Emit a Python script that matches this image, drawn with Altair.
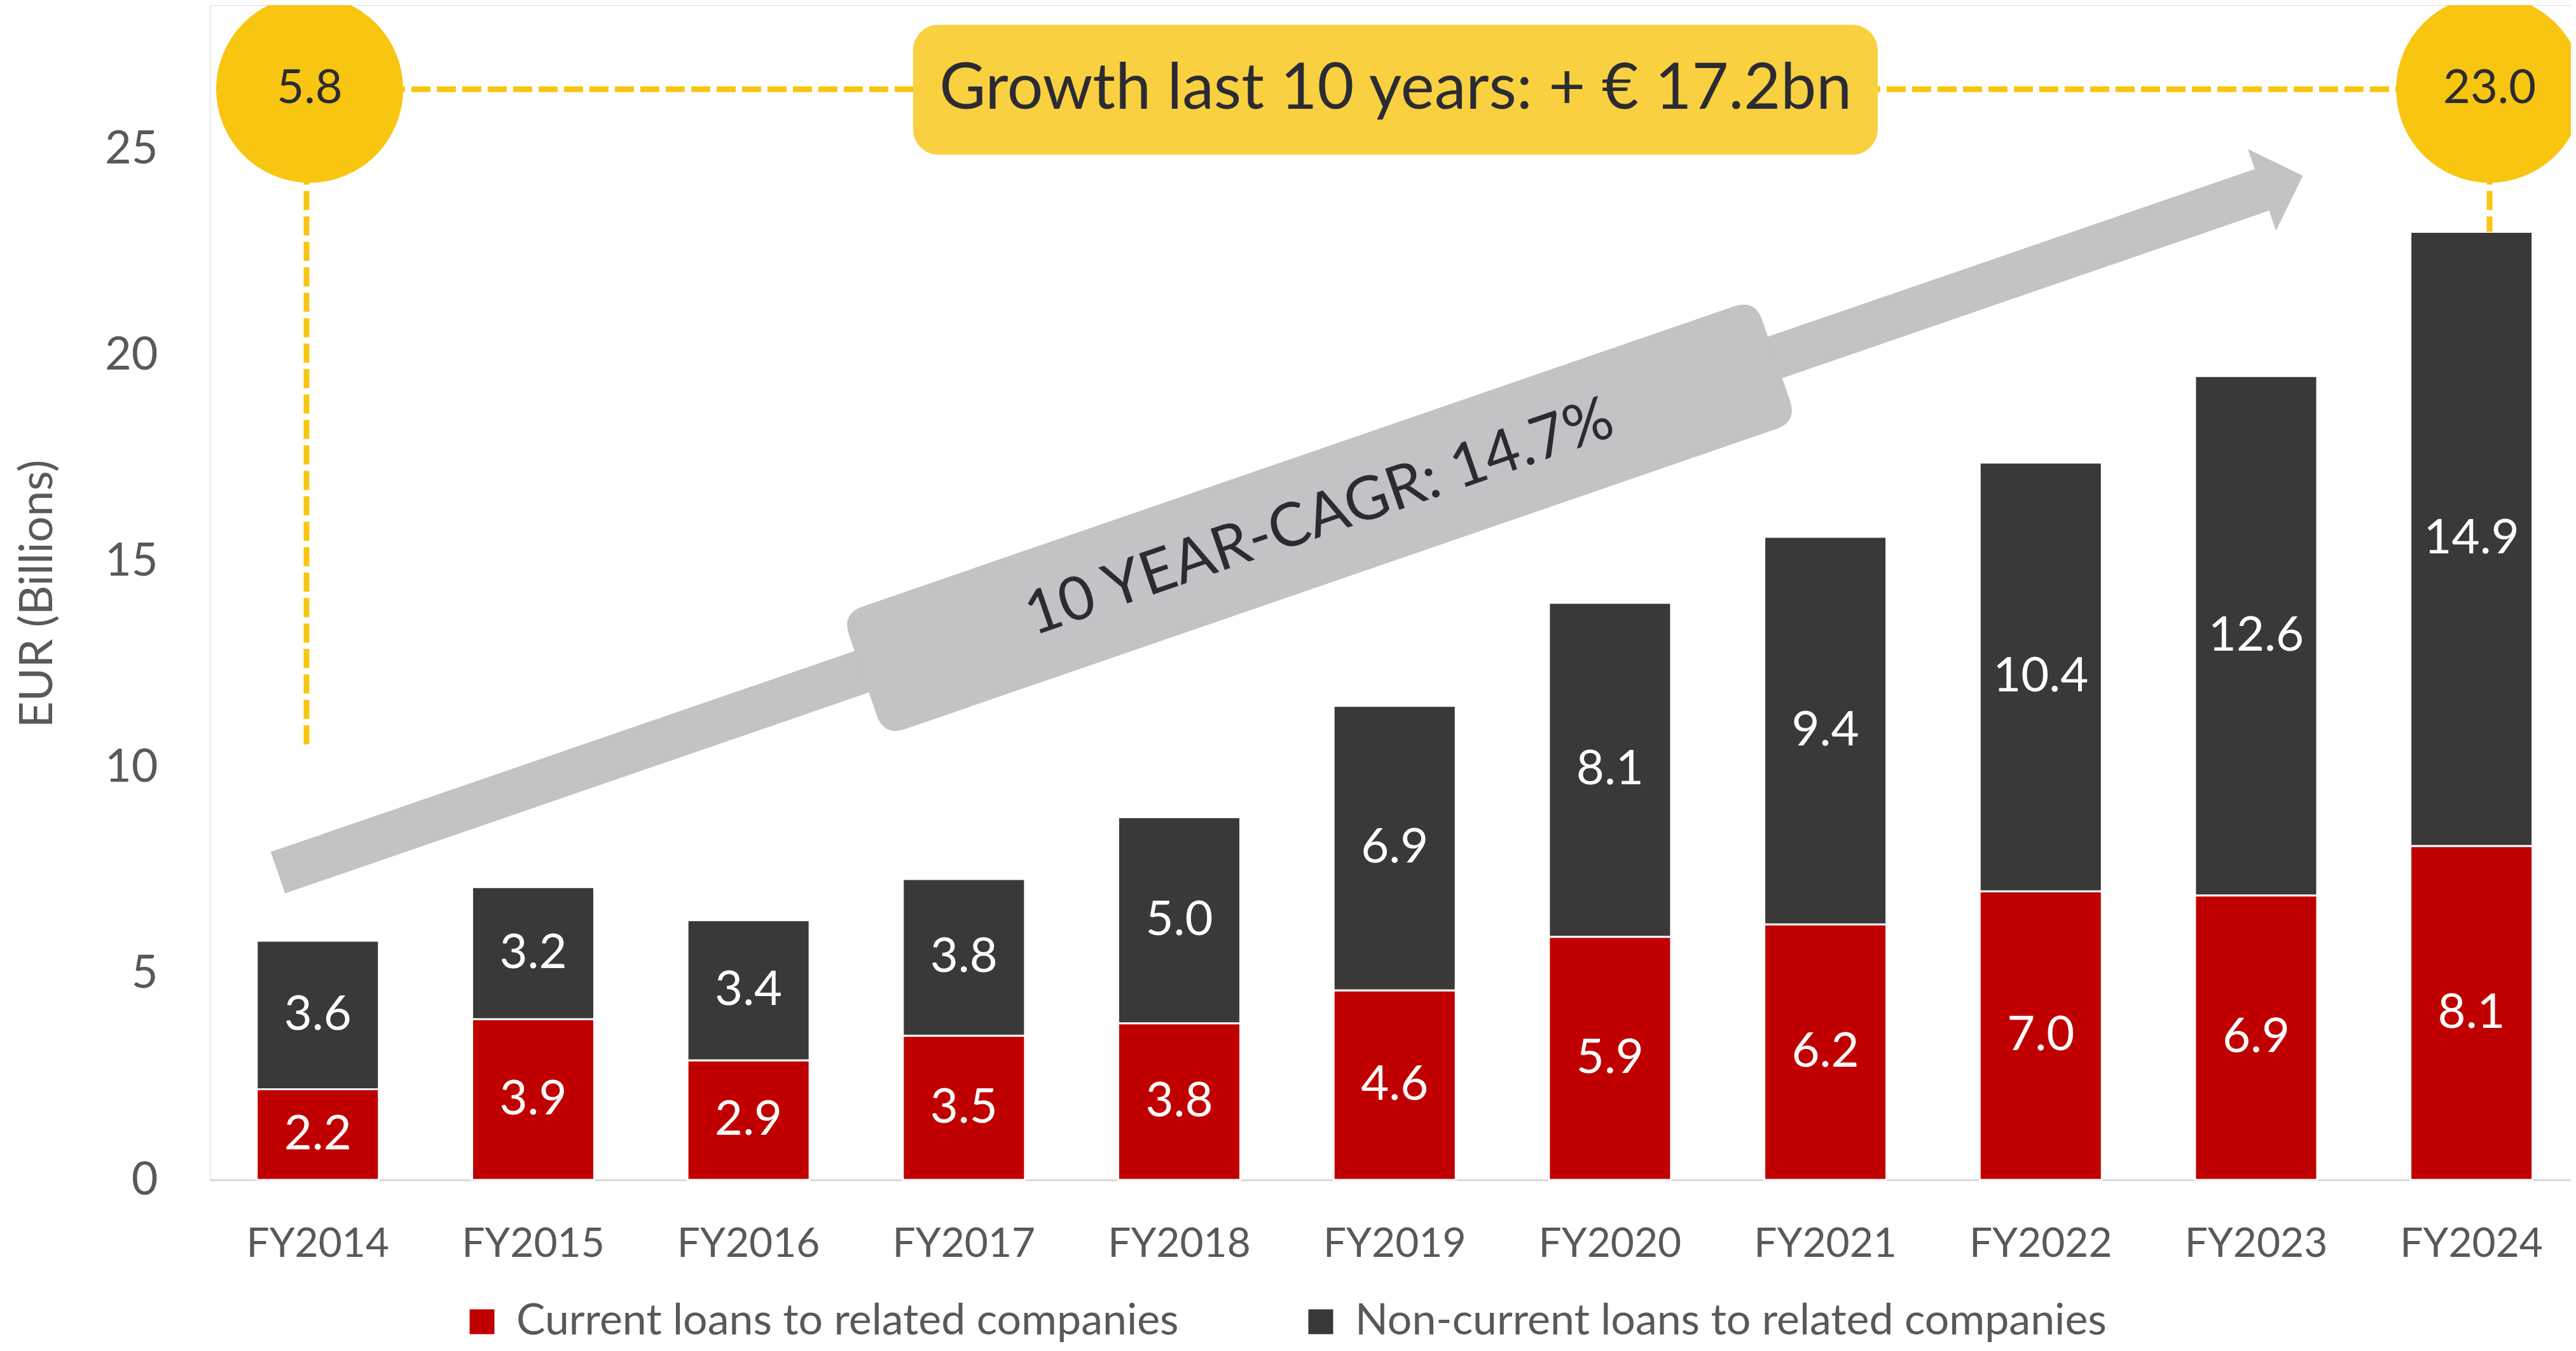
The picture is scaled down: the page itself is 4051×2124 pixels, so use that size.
import altair as alt
import pandas as pd

# ---------------- data ----------------
years = ["FY2014", "FY2015", "FY2016", "FY2017", "FY2018", "FY2019",
         "FY2020", "FY2021", "FY2022", "FY2023", "FY2024"]
current = [2.2, 3.9, 2.9, 3.5, 3.8, 4.6, 5.9, 6.2, 7.0, 6.9, 8.1]
noncurrent = [3.6, 3.2, 3.4, 3.8, 5.0, 6.9, 8.1, 9.4, 10.4, 12.6, 14.9]
series = ["Current loans to related companies", "Non-current loans to related companies"]
y_ticks = [0, 5, 10, 15, 20, 25]
growth_text = "Growth last 10 years: + € 17.2bn"
cagr_text = "10 YEAR-CAGR: 14.7%"

totals = [round(a + b, 1) for a, b in zip(current, noncurrent)]

rows = []
for i, y in enumerate(years):
    rows.append({"year": y, "series": series[0], "value": current[i], "ord": 0})
    rows.append({"year": y, "series": series[1], "value": noncurrent[i], "ord": 1})
df = pd.DataFrame(rows)

# ---------------- layout / style ----------------
W, H = 3713, 1847
Y_MAX = 28.5
P_INNER, P_OUTER, ALIGN = 0.433, 0.198, 0.55
n = len(years)
step = W / (n - P_INNER + 2 * P_OUTER)
start = (W - step * (n - P_INNER)) * ALIGN
c0 = start + step * (1 - P_INNER) / 2
u_domain = [-c0 / step, (W - c0) / step]   # annotation x: 0 = first bar centre, 1 = next bar ...

RED = "#C00000"
DARK = "#3A3937"
GOLD = "#F8C510"
GOLD_BOX = "#F9D03F"
GREY = "#C3C3C5"
TXT = "#2B2B33"
AX = "#595959"
FONT = "Lato"

y_scale = alt.Scale(domain=[0, Y_MAX], nice=False, zero=True)
x_band = alt.Scale(type="band", paddingInner=P_INNER, paddingOuter=P_OUTER, align=ALIGN, round=False)
u_scale = alt.Scale(domain=u_domain, nice=False, zero=False)

y_axis = alt.Axis(values=y_ticks, ticks=False, domain=False, grid=False,
                  labelFontSize=72, labelColor=AX, labelFont=FONT, labelPadding=82,
                  title="EUR (Billions)", titleFontSize=72, titleFontWeight="normal",
                  titleColor=AX, titleFont=FONT, titleX=-271, titleY=925,
                  titleAngle=270, titleAlign="center", titleBaseline="middle")


def UX(f):
    return alt.X(f, type="quantitative", scale=u_scale, axis=None)


def UX2(f):
    return alt.X2(f)


def VY(f):
    return alt.Y(f, type="quantitative", scale=y_scale, axis=y_axis)


# ---------------- bars ----------------
bars = alt.Chart(df).mark_bar(stroke="white", strokeWidth=3).encode(
    x=alt.X("year:N", sort=years, scale=x_band, title=None,
            axis=alt.Axis(labelAngle=0, ticks=False, domainColor="#D9D9D9", domainWidth=3,
                          labelPadding=69, labelFontSize=64, labelColor=AX, labelFont=FONT,
                          labelLimit=1000)),
    y=alt.Y("value:Q", stack="zero", scale=y_scale, axis=y_axis),
    color=alt.Color("series:N", scale=alt.Scale(domain=series, range=[RED, DARK]),
                    legend=alt.Legend(title=None, orient="none", legendX=394, legendY=2036,
                                      direction="horizontal", columns=2, symbolType="square",
                                      symbolSize=1521, symbolStrokeWidth=0, symbolOpacity=1,
                                      labelFontSize=68, labelFont=FONT, labelColor=AX,
                                      labelLimit=3000, columnPadding=189, labelOffset=20)),
    order=alt.Order("ord:Q", sort="ascending"),
)

labels = alt.Chart(df).transform_stack(
    stack="value", groupby=["year"], as_=["y0", "y1"],
    sort=[alt.SortField("ord", order="ascending")]
).transform_calculate(mid="(datum.y0 + datum.y1) / 2").mark_text(
    color="white", fontSize=76, font=FONT, baseline="middle"
).encode(
    x=alt.X("year:N", sort=years, scale=x_band, axis=None),
    y=VY("mid"),
    text=alt.Text("value:Q", format=".1f"),
)

# ---------------- annotations ----------------
CIRCLE_V = 26.46
CIRCLE_D = 294
left_u, right_u = -0.038, 10.084

dash_df = pd.DataFrame({
    "u": [left_u, -0.0526, right_u],
    "u2": [right_u, -0.0526, right_u],
    "v": [CIRCLE_V, CIRCLE_V, CIRCLE_V],
    "v2": [CIRCLE_V, 10.45, totals[-1]],
})
dashes = alt.Chart(dash_df).mark_rule(color=GOLD, strokeWidth=9, strokeDash=[30, 10]).encode(
    x=UX("u"), x2=UX2("u2"), y=VY("v"), y2=alt.Y2("v2"))

box_df = pd.DataFrame({"u": [2.764], "u2": [7.243], "v": [28.02], "v2": [24.87]})
gbox = alt.Chart(box_df).mark_rect(color=GOLD_BOX, cornerRadius=40).encode(
    x=UX("u"), x2=UX2("u2"), y=VY("v"), y2=alt.Y2("v2"))

circ_df = pd.DataFrame({"u": [left_u, right_u], "v": [CIRCLE_V, CIRCLE_V],
                        "label": [f"{totals[0]:.1f}", f"{totals[-1]:.1f}"]})
circles = alt.Chart(circ_df).mark_point(shape="circle", filled=True, size=CIRCLE_D ** 2,
                                        color=GOLD, opacity=1, strokeWidth=0).encode(
    x=UX("u"), y=VY("v"))
circ_txt = alt.Chart(circ_df).mark_text(fontSize=74, font=FONT, color=TXT, baseline="middle").encode(
    x=UX("u"), y=VY("v"), text="label:N")

gtxt_df = pd.DataFrame({"u": [5.004], "v": [26.45], "t": [growth_text]})
gtxt = alt.Chart(gtxt_df).mark_text(fontSize=100, font=FONT, color=TXT, baseline="middle").encode(
    x=UX("u"), y=VY("v"), text="t:N")

# grey arrow
ANG = 341
shaft_df = pd.DataFrame({"u": [-0.1854], "v": [7.453], "u2": [9.027], "v2": [24.018]})
shaft = alt.Chart(shaft_df).mark_rule(color=GREY, strokeWidth=69, strokeCap="butt").encode(
    x=UX("u"), x2=UX2("u2"), y=VY("v"), y2=alt.Y2("v2"))
head_df = pd.DataFrame({"u": [9.027], "v": [24.018]})
head = alt.Chart(head_df).mark_point(shape="M0,-1L1,0L0,1Z", filled=True, size=136 ** 2,
                                     angle=ANG, color=GREY, opacity=1, strokeWidth=0).encode(
    x=UX("u"), y=VY("v"))

half_len, half_th, rad = 759.5, 102.0, 35.0
h = half_th / half_len
r = rad / half_len
a = 1 - r
b = h - r
box_path = (f"M{-a:.4f},{-h:.4f}L{a:.4f},{-h:.4f}Q1,{-h:.4f} 1,{-b:.4f}L1,{b:.4f}"
            f"Q1,{h:.4f} {a:.4f},{h:.4f}L{-a:.4f},{h:.4f}Q-1,{h:.4f} -1,{b:.4f}"
            f"L-1,{-b:.4f}Q-1,{-h:.4f} {-a:.4f},{-h:.4f}Z")
cbox_df = pd.DataFrame({"u": [4.651], "v": [16.063], "t": [cagr_text]})
cbox = alt.Chart(cbox_df).mark_point(shape=box_path, filled=True, size=(2 * half_len) ** 2,
                                     angle=ANG, color=GREY, opacity=1, strokeWidth=0).encode(
    x=UX("u"), y=VY("v"))
ctxt = alt.Chart(cbox_df).mark_text(fontSize=95, font=FONT, color=TXT, angle=ANG,
                                    baseline="middle").encode(
    x=UX("u"), y=VY("v"), text="t:N")

chart = alt.layer(
    bars, labels, dashes, gbox, circles, circ_txt, gtxt, shaft, head, cbox, ctxt
).resolve_scale(x="independent").properties(
    width=W, height=H,
    autosize=alt.AutoSizeParams(type="none"),
    padding={"left": 322, "top": 0, "right": 0, "bottom": 261},
).configure_view(strokeWidth=0).configure(font=FONT, background="white")

chart.save("out.html", embed_options={"renderer": "svg", "actions": False})
